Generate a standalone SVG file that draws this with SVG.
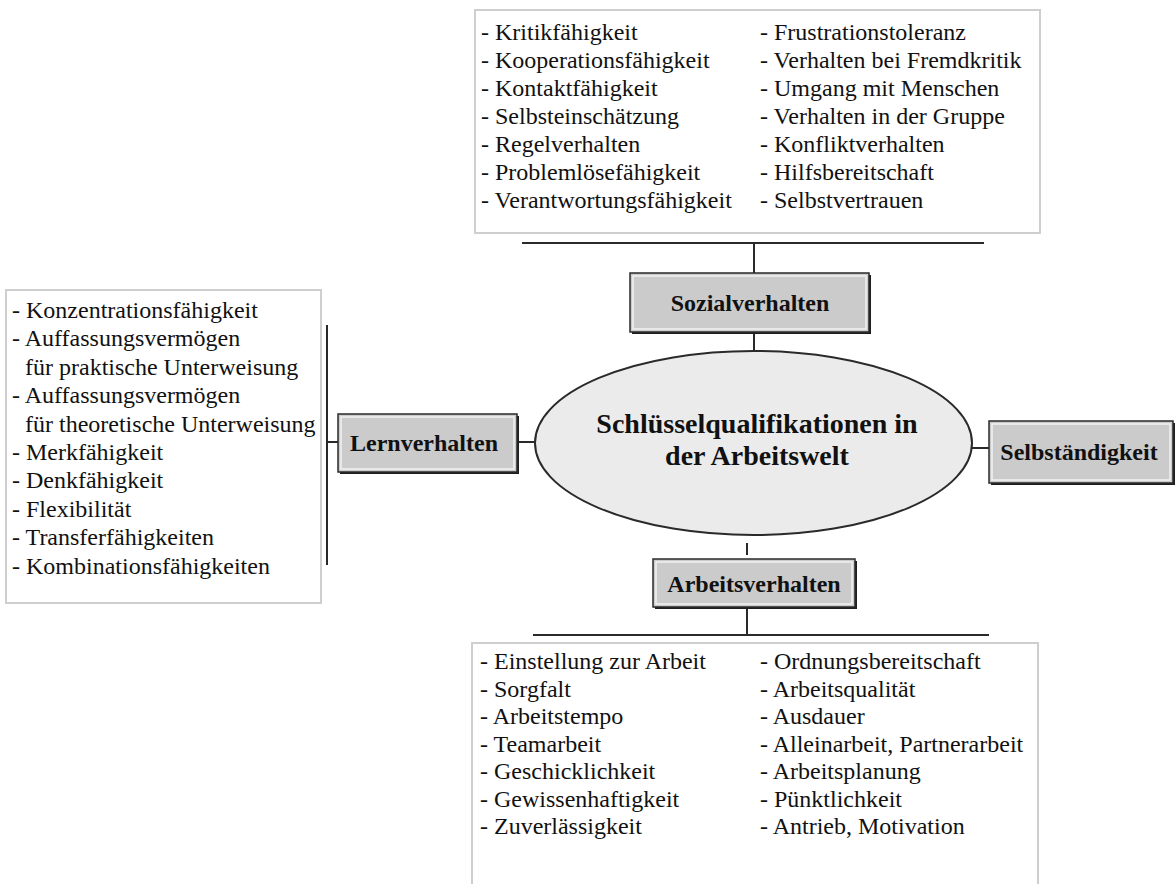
<svg xmlns="http://www.w3.org/2000/svg" width="1175" height="884" viewBox="0 0 1175 884">
  <style>
    .list { fill: #ffffff; stroke: #cfcfcf; stroke-width: 2; }
    .item { font-family: "Liberation Serif", "Times New Roman", serif; font-size: 24px; fill: #111111; }
    .label { font-family: "Liberation Serif", "Times New Roman", serif; font-size: 24px; font-weight: bold; fill: #111111; text-anchor: middle; }
    .title { font-family: "Liberation Serif", "Times New Roman", serif; font-size: 28px; font-weight: bold; fill: #111111; text-anchor: middle; }
    .box { fill: #cbcbcb; stroke: #2a2a2a; stroke-width: 1.5; }
    .shadow { fill: #1e1e1e; }
    .inner { fill: none; stroke: #f2f2f2; stroke-width: 1.5; }
    .wire { stroke: #2a2a2a; stroke-width: 2; fill: none; }
  </style>
  <rect width="1175" height="884" fill="#ffffff"/>

  <!-- connectors -->
  <g id="connectors" class="wire">
    <line x1="522" y1="243" x2="984" y2="243"/>
    <line x1="754" y1="243" x2="754" y2="273"/>
    <line x1="754" y1="332" x2="754" y2="351"/>
    <line x1="327" y1="325" x2="327" y2="565"/>
    <line x1="327" y1="442" x2="338" y2="442"/>
    <line x1="517" y1="442" x2="535" y2="442"/>
    <line x1="972" y1="448" x2="989" y2="448"/>
    <line x1="1173" y1="448" x2="1175" y2="448"/>
    <line x1="747" y1="543" x2="747" y2="555"/>
    <line x1="747" y1="607" x2="747" y2="635"/>
    <line x1="533" y1="635" x2="989" y2="635"/>
  </g>

  <!-- central topic -->
  <g id="center">
    <ellipse cx="753.5" cy="443" rx="218.5" ry="92" fill="#ebebeb" stroke="#2a2a2a" stroke-width="2"/>
    <text class="title" x="757" y="433">Schlüsselqualifikationen in</text>
    <text class="title" x="757" y="465">der Arbeitswelt</text>
  </g>

  <!-- Sozialverhalten -->
  <g id="sozialverhalten">
    <rect class="shadow" x="632" y="275" width="239" height="59"/>
    <rect class="box" x="630" y="273" width="239" height="59"/>
    <rect class="inner" x="633" y="276" width="233" height="53"/>
    <text class="label" x="750" y="311">Sozialverhalten</text>
  </g>

  <!-- Lernverhalten -->
  <g id="lernverhalten">
    <rect class="shadow" x="340" y="416" width="179" height="58"/>
    <rect class="box" x="338" y="414" width="179" height="58"/>
    <rect class="inner" x="341" y="417" width="173" height="52"/>
    <text class="label" x="424" y="451">Lernverhalten</text>
  </g>

  <!-- Selbständigkeit -->
  <g id="selbstaendigkeit">
    <rect class="shadow" x="991" y="423" width="184" height="62"/>
    <rect class="box" x="989" y="421" width="184" height="62"/>
    <rect class="inner" x="992" y="424" width="178" height="56"/>
    <text class="label" x="1079" y="460">Selbständigkeit</text>
  </g>

  <!-- Arbeitsverhalten -->
  <g id="arbeitsverhalten">
    <rect class="shadow" x="655" y="561" width="202" height="48"/>
    <rect class="box" x="653" y="559" width="202" height="48"/>
    <rect class="inner" x="656" y="562" width="196" height="42"/>
    <text class="label" x="754" y="592">Arbeitsverhalten</text>
  </g>

  <!-- social skills list -->
  <g id="liste-sozial">
    <rect class="list" x="475" y="10" width="565" height="223"/>
    <g class="item">
      <text x="481" y="40">- Kritikfähigkeit</text>
      <text x="481" y="68">- Kooperationsfähigkeit</text>
      <text x="481" y="96">- Kontaktfähigkeit</text>
      <text x="481" y="124">- Selbsteinschätzung</text>
      <text x="481" y="152">- Regelverhalten</text>
      <text x="481" y="180">- Problemlösefähigkeit</text>
      <text x="481" y="208">- Verantwortungsfähigkeit</text>
      <text x="760" y="40">- Frustrationstoleranz</text>
      <text x="760" y="68">- Verhalten bei Fremdkritik</text>
      <text x="760" y="96">- Umgang mit Menschen</text>
      <text x="760" y="124">- Verhalten in der Gruppe</text>
      <text x="760" y="152">- Konfliktverhalten</text>
      <text x="760" y="180">- Hilfsbereitschaft</text>
      <text x="760" y="208">- Selbstvertrauen</text>
    </g>
  </g>

  <!-- learning skills list -->
  <g id="liste-lernen">
    <rect class="list" x="6" y="290" width="315" height="313"/>
    <g class="item">
      <text x="12" y="318">- Konzentrationsfähigkeit</text>
      <text x="12" y="346.4">- Auffassungsvermögen</text>
      <text x="25" y="374.8">für praktische Unterweisung</text>
      <text x="12" y="403.2">- Auffassungsvermögen</text>
      <text x="25" y="431.6">für theoretische Unterweisung</text>
      <text x="12" y="460">- Merkfähigkeit</text>
      <text x="12" y="488.4">- Denkfähigkeit</text>
      <text x="12" y="516.8">- Flexibilität</text>
      <text x="12" y="545.2">- Transferfähigkeiten</text>
      <text x="12" y="573.6">- Kombinationsfähigkeiten</text>
    </g>
  </g>

  <!-- work behaviour list -->
  <g id="liste-arbeit">
    <rect class="list" x="472" y="643" width="566" height="260"/>
    <g class="item">
      <text x="480" y="669">- Einstellung zur Arbeit</text>
      <text x="480" y="696.5">- Sorgfalt</text>
      <text x="480" y="724">- Arbeitstempo</text>
      <text x="480" y="751.5">- Teamarbeit</text>
      <text x="480" y="779">- Geschicklichkeit</text>
      <text x="480" y="806.5">- Gewissenhaftigkeit</text>
      <text x="480" y="834">- Zuverlässigkeit</text>
      <text x="760" y="669">- Ordnungsbereitschaft</text>
      <text x="760" y="696.5">- Arbeitsqualität</text>
      <text x="760" y="724">- Ausdauer</text>
      <text x="760" y="751.5">- Alleinarbeit, Partnerarbeit</text>
      <text x="760" y="779">- Arbeitsplanung</text>
      <text x="760" y="806.5">- Pünktlichkeit</text>
      <text x="760" y="834">- Antrieb, Motivation</text>
    </g>
  </g>
</svg>
